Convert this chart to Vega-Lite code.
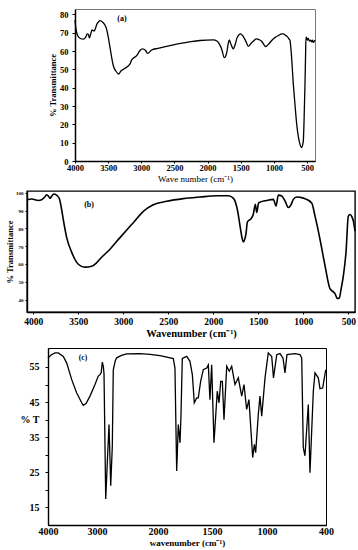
{
  "$schema": "https://vega.github.io/schema/vega-lite/v6.json",
  "padding": 0,
  "background": "white",
  "spacing": 0,
  "config": {
    "view": {"stroke": null},
    "font": "Liberation Serif",
    "axis": {"grid": false, "labelOverlap": false, "labelFont": "Liberation Serif", "titleFont": "Liberation Serif", "labelColor": "black", "titleColor": "black", "domainColor": "black", "tickColor": "black", "labelFontWeight": "bold", "titleFontWeight": "bold"}
  },
  "datasets": {
    "a": [
      {"wn":4000,"t":77},{"wn":3985,"t":72},{"wn":3960,"t":68.5},{"wn":3925,"t":67},{"wn":3875,"t":66.5},{"wn":3840,"t":67.5},{"wn":3814,"t":69.4},{"wn":3795,"t":69},{"wn":3784,"t":67.2},{"wn":3765,"t":69},{"wn":3744,"t":71.6},{"wn":3713,"t":70.9},{"wn":3690,"t":72.5},{"wn":3673,"t":74.5},{"wn":3645,"t":76},{"wn":3623,"t":76.7},{"wn":3582,"t":75.8},{"wn":3532,"t":73},{"wn":3500,"t":68},{"wn":3472,"t":62},{"wn":3422,"t":52},{"wn":3382,"t":49},{"wn":3341,"t":47.5},{"wn":3311,"t":49},{"wn":3246,"t":50.6},{"wn":3170,"t":53},{"wn":3145,"t":55.2},{"wn":3070,"t":57.5},{"wn":3020,"t":60.3},{"wn":2980,"t":61.2},{"wn":2935,"t":60.3},{"wn":2905,"t":58.8},{"wn":2843,"t":60.6},{"wn":2750,"t":61.5},{"wn":2617,"t":62.6},{"wn":2500,"t":63.6},{"wn":2366,"t":64.5},{"wn":2250,"t":65.2},{"wn":2115,"t":65.8},{"wn":1914,"t":66.1},{"wn":1860,"t":65.5},{"wn":1839,"t":64.8},{"wn":1810,"t":63},{"wn":1788,"t":61.2},{"wn":1748,"t":56.4},{"wn":1725,"t":57.5},{"wn":1712,"t":59},{"wn":1690,"t":64},{"wn":1673,"t":66.1},{"wn":1655,"t":64.5},{"wn":1627,"t":62},{"wn":1612,"t":61.2},{"wn":1585,"t":63.5},{"wn":1552,"t":67.6},{"wn":1501,"t":69.4},{"wn":1461,"t":67.9},{"wn":1421,"t":65.2},{"wn":1386,"t":62.6},{"wn":1350,"t":64},{"wn":1311,"t":65.4},{"wn":1260,"t":66.7},{"wn":1220,"t":66.2},{"wn":1184,"t":65.4},{"wn":1150,"t":63.5},{"wn":1124,"t":62.5},{"wn":1080,"t":63.8},{"wn":1033,"t":65.8},{"wn":980,"t":67.5},{"wn":933,"t":68.5},{"wn":880,"t":69.4},{"wn":858,"t":69.4},{"wn":820,"t":68.5},{"wn":797,"t":67.9},{"wn":770,"t":66.5},{"wn":757,"t":65.8},{"wn":740,"t":60},{"wn":707,"t":42},{"wn":680,"t":30},{"wn":656,"t":20.1},{"wn":630,"t":13},{"wn":606,"t":9.1},{"wn":581,"t":7.3},{"wn":565,"t":9},{"wn":556,"t":11},{"wn":545,"t":22},{"wn":531,"t":42},{"wn":522,"t":58},{"wn":516,"t":67.6},{"wn":505,"t":67.2},{"wn":495,"t":66},{"wn":481,"t":67},{"wn":465,"t":65.5},{"wn":446,"t":66},{"wn":430,"t":65},{"wn":418,"t":66},{"wn":405,"t":64.8},{"wn":390,"t":65.5},{"wn":380,"t":66}
    ],
    "b": [
      {"wn":4070,"t":96.1},{"wn":4018,"t":96.5},{"wn":3944,"t":95.7},{"wn":3907,"t":96.1},{"wn":3870,"t":97.8},{"wn":3851,"t":98.9},{"wn":3830,"t":98},{"wn":3815,"t":96.9},{"wn":3790,"t":98.5},{"wn":3770,"t":99.3},{"wn":3733,"t":98.3},{"wn":3711,"t":96.8},{"wn":3690,"t":92},{"wn":3667,"t":85},{"wn":3629,"t":74.8},{"wn":3573,"t":66.5},{"wn":3518,"t":60.9},{"wn":3470,"t":58.8},{"wn":3426,"t":58.2},{"wn":3351,"t":58.7},{"wn":3300,"t":60.5},{"wn":3259,"t":62.8},{"wn":3148,"t":68.3},{"wn":3037,"t":74.8},{"wn":2962,"t":79.1},{"wn":2889,"t":83.2},{"wn":2778,"t":89.6},{"wn":2667,"t":93.3},{"wn":2518,"t":95.2},{"wn":2333,"t":96.7},{"wn":2148,"t":97.6},{"wn":1963,"t":98.3},{"wn":1833,"t":98.3},{"wn":1778,"t":97},{"wn":1750,"t":94},{"wn":1733,"t":90.6},{"wn":1703,"t":81.3},{"wn":1680,"t":74.5},{"wn":1667,"t":72.4},{"wn":1650,"t":74},{"wn":1637,"t":77},{"wn":1622,"t":83.5},{"wn":1611,"t":84.3},{"wn":1584,"t":85.2},{"wn":1556,"t":87.9},{"wn":1533,"t":93.5},{"wn":1518,"t":88.9},{"wn":1496,"t":94.4},{"wn":1407,"t":95.7},{"wn":1333,"t":96.3},{"wn":1303,"t":92.6},{"wn":1278,"t":98.7},{"wn":1240,"t":98.2},{"wn":1200,"t":95},{"wn":1167,"t":91.7},{"wn":1140,"t":93},{"wn":1111,"t":96.3},{"wn":1074,"t":97.6},{"wn":1000,"t":97},{"wn":907,"t":94.3},{"wn":870,"t":86.9},{"wn":815,"t":73.9},{"wn":759,"t":59},{"wn":704,"t":46.1},{"wn":667,"t":44.3},{"wn":648,"t":43.3},{"wn":622,"t":40.6},{"wn":600,"t":40.9},{"wn":580,"t":46},{"wn":555,"t":53.5},{"wn":526,"t":66.5},{"wn":500,"t":86.9},{"wn":481,"t":87.8},{"wn":460,"t":86.5},{"wn":444,"t":84.1},{"wn":426,"t":78.5}
    ],
    "c": [
      {"wn":4000,"t":57.6},{"wn":3930,"t":58.5},{"wn":3857,"t":59},{"wn":3790,"t":59},{"wn":3688,"t":58},{"wn":3618,"t":56.1},{"wn":3516,"t":51.4},{"wn":3414,"t":47.6},{"wn":3312,"t":44.8},{"wn":3280,"t":44.1},{"wn":3224,"t":44.6},{"wn":3143,"t":46.7},{"wn":3041,"t":50},{"wn":2979,"t":52.4},{"wn":2951,"t":52.8},{"wn":2930,"t":53.5},{"wn":2913,"t":56.4},{"wn":2895,"t":55},{"wn":2885,"t":53},{"wn":2857,"t":17.4},{"wn":2831,"t":27.8},{"wn":2803,"t":38.6},{"wn":2775,"t":21.2},{"wn":2749,"t":32.5},{"wn":2733,"t":54.2},{"wn":2700,"t":56.8},{"wn":2677,"t":57.6},{"wn":2600,"t":58.3},{"wn":2513,"t":58.7},{"wn":2300,"t":58.8},{"wn":2131,"t":58.6},{"wn":1981,"t":58.2},{"wn":1858,"t":57.4},{"wn":1843,"t":54.7},{"wn":1827,"t":25.4},{"wn":1812,"t":38.6},{"wn":1796,"t":33.4},{"wn":1787,"t":41.5},{"wn":1775,"t":57.4},{"wn":1734,"t":58},{"wn":1704,"t":56.6},{"wn":1682,"t":52.8},{"wn":1664,"t":44.8},{"wn":1642,"t":46.2},{"wn":1627,"t":46.2},{"wn":1605,"t":50.9},{"wn":1581,"t":54.2},{"wn":1549,"t":54.7},{"wn":1534,"t":55.6},{"wn":1519,"t":45.7},{"wn":1503,"t":55.6},{"wn":1482,"t":33.4},{"wn":1452,"t":48.1},{"wn":1436,"t":44.8},{"wn":1421,"t":50.9},{"wn":1406,"t":50.9},{"wn":1391,"t":40},{"wn":1366,"t":55.2},{"wn":1343,"t":53.8},{"wn":1321,"t":55.2},{"wn":1291,"t":50},{"wn":1261,"t":51.9},{"wn":1230,"t":46.7},{"wn":1209,"t":50},{"wn":1185,"t":42.9},{"wn":1164,"t":45.7},{"wn":1130,"t":29.2},{"wn":1115,"t":33},{"wn":1103,"t":30.6},{"wn":1079,"t":41.5},{"wn":1064,"t":46.7},{"wn":1048,"t":41},{"wn":1018,"t":51.9},{"wn":987,"t":59},{"wn":952,"t":58},{"wn":934,"t":51.9},{"wn":901,"t":58.5},{"wn":868,"t":58.8},{"wn":837,"t":57.5},{"wn":817,"t":53.3},{"wn":797,"t":58.5},{"wn":715,"t":58.8},{"wn":664,"t":58.5},{"wn":647,"t":57.6},{"wn":631,"t":32},{"wn":614,"t":29.7},{"wn":580,"t":44.3},{"wn":563,"t":24.9},{"wn":529,"t":48.1},{"wn":512,"t":53.3},{"wn":478,"t":51.9},{"wn":461,"t":48.8},{"wn":434,"t":49},{"wn":403,"t":54.2}
    ]
  },
  "vconcat": [
    {"width": 1, "height": 8, "data": {"values": []}, "mark": "point", "view": {"stroke": null, "fill": "white"}},
    {
      "hconcat": [
        {"width": 75, "height": 152, "data": {"values": []}, "mark": "point", "view": {"stroke": null, "fill": "white"}},
        {
          "width": 240, "height": 152,
          "view": {"stroke": "#777", "strokeWidth": 1},
          "encoding": {
            "x": {"field": "wn", "type": "quantitative", "scale": {"domain": [380, 4000], "reverse": true, "nice": false, "zero": false},
              "axis": {"values": [4000,3500,3000,2500,2000,1500,1000,500], "format": "d", "labelOverlap": false, "title": "Wave number (cm\u207b\u00b9)", "labelFontSize": 8.5, "titleFontSize": 9, "titleFontWeight": "normal", "tickSize": 2, "labelPadding": 0, "titlePadding": 3, "domainWidth": 1.5, "labelFlush": false}},
            "y": {"field": "t", "type": "quantitative", "scale": {"domain": [0, 83], "nice": false, "zero": false},
              "axis": {"values": [0,10,20,30,40,50,60,70,80], "labelOverlap": false, "title": "% Transmittance", "labelFontSize": 8.5, "titleFontSize": 8.5, "tickSize": 3, "labelPadding": 4, "titlePadding": 2, "domainWidth": 1.5}}
          },
          "layer": [
            {
              "data": {"name": "a"},
              "mark": {"type": "line", "color": "black", "strokeWidth": 1.3, "interpolate": "monotone"}
            },
            {
              "data": {"values": [{"wn": 3291, "t": 77.8, "label": "(a)"}]},
              "mark": {"type": "text", "fontWeight": "bold", "fontSize": 8, "font": "Liberation Serif", "color": "black"},
              "encoding": {"text": {"field": "label"}}
            }
          ]
        }
      ],
      "spacing": 0, "bounds": "flush"
    },
    {"width": 1, "height": 6, "data": {"values": []}, "mark": "point", "view": {"stroke": null, "fill": "white"}},
    {
      "hconcat": [
        {"width": 27, "height": 121, "data": {"values": []}, "mark": "point", "view": {"stroke": null, "fill": "white"}},
        {
          "width": 328, "height": 121,
          "view": {"stroke": "black", "strokeWidth": 1.4},
          "encoding": {
            "x": {"field": "wn", "type": "quantitative", "scale": {"domain": [426, 4070], "reverse": true, "nice": false, "zero": false},
              "axis": {"values": [4000,3500,3000,2500,2000,1500,1000,500], "format": "d", "labelOverlap": false, "title": "Wavenumber (cm\u207b\u00b9)", "labelFontSize": 9.5, "titleFontSize": 10.5, "tickSize": 2, "labelPadding": 2, "titlePadding": 3, "domainWidth": 1.4, "labelFlush": false}},
            "y": {"field": "t", "type": "quantitative", "scale": {"domain": [33, 101], "nice": false, "zero": false},
              "axis": {"values": [40,50,60,70,80,90,100], "labelOverlap": false, "title": "% Transmittance", "labelFontSize": 5, "titleFontSize": 8.5, "tickSize": 2, "labelPadding": 2, "titlePadding": 1, "domainWidth": 1.4}}
          },
          "layer": [
            {
              "data": {"name": "b"},
              "mark": {"type": "line", "color": "black", "strokeWidth": 1.6, "interpolate": "monotone"}
            },
            {
              "data": {"values": [{"wn": 3381, "t": 93.3, "label": "(b)"}]},
              "mark": {"type": "text", "fontWeight": "bold", "fontSize": 8, "font": "Liberation Serif", "color": "black"},
              "encoding": {"text": {"field": "label"}}
            }
          ]
        }
      ],
      "spacing": 0, "bounds": "flush"
    },
    {"width": 1, "height": 7, "data": {"values": []}, "mark": "point", "view": {"stroke": null, "fill": "white"}},
    {
      "hconcat": [
        {"width": 48, "height": 177, "data": {"values": []}, "mark": "point", "view": {"stroke": null, "fill": "white"}},
        {
          "width": 278, "height": 177,
          "view": {"stroke": "black", "strokeWidth": 1},
          "encoding": {
            "x": {"field": "wn", "type": "quantitative", "scale": {"domain": [4000,3000,2000,1500,1000,400], "range": [0,49,110,164,219,278], "nice": false, "zero": false},
              "axis": {"values": [4000,3000,2000,1500,1000,400], "format": "d", "labelOverlap": false, "title": "wavenumber (cm\u207b\u00b9)", "labelFontSize": 10, "titleFontSize": 9, "tickSize": 0, "labelPadding": 1, "titlePadding": 2, "domainWidth": 1.4, "labelFlush": false}},
            "y": {"field": "t", "type": "quantitative", "scale": {"domain": [10, 60.4], "nice": false, "zero": false},
              "axis": {"values": [15,20,25,30,35,40,45,50,55], "labelOverlap": false, "title": null, "labelExpr": "datum.value == 40 ? '% T' : (datum.value % 10 == 5 ? datum.label : '')", "labelFontSize": 10, "tickSize": 3, "labelPadding": 6, "domainWidth": 1.4}}
          },
          "layer": [
            {
              "data": {"name": "c"},
              "mark": {"type": "line", "color": "black", "strokeWidth": 1.3}
            },
            {
              "data": {"values": [{"wn": 3286, "t": 57.6, "label": "(c)"}]},
              "mark": {"type": "text", "fontWeight": "bold", "fontSize": 7.5, "font": "Liberation Serif", "color": "black"},
              "encoding": {"text": {"field": "label"}}
            }
          ]
        }
      ],
      "spacing": 0, "bounds": "flush"
    }
  ]
}
